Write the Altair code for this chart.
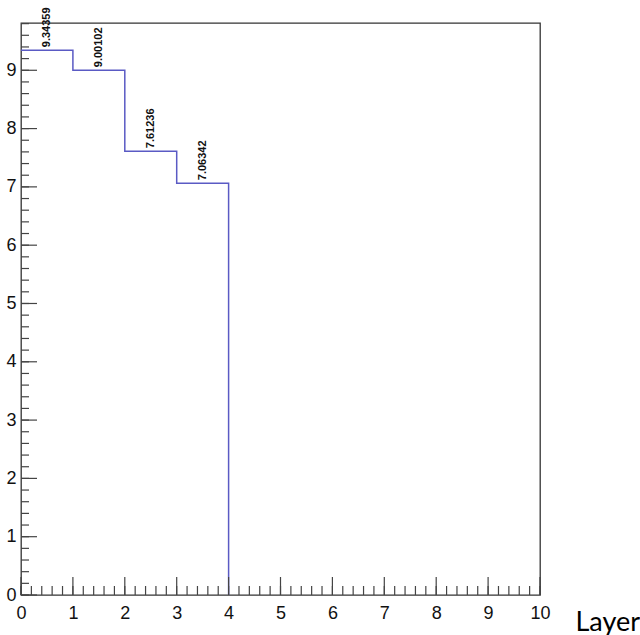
import altair as alt
import pandas as pd

# ---- data ----
bin_edges = [0, 1, 2, 3, 4, 5, 6, 7, 8, 9, 10]
bin_values = [9.34359, 9.00102, 7.61236, 7.06342, 0, 0, 0, 0, 0, 0]
bin_labels = ["9.34359", "9.00102", "7.61236", "7.06342"]
x_tick_labels = [0, 1, 2, 3, 4, 5, 6, 7, 8, 9, 10]
y_tick_labels = [0, 1, 2, 3, 4, 5, 6, 7, 8, 9]
y_max = 9.8108
x_title = "Layer"

W, H = 519, 572

# step outline points: filled bins, then drop to the next (empty) bin's level
n_filled = len(bin_labels)
step_x = bin_edges[:n_filled + 1]
step_y = bin_values[:n_filled + 1]
step_df = pd.DataFrame({"x": step_x, "y": step_y})

lab_df = pd.DataFrame({
    "xc": [(bin_edges[i] + bin_edges[i + 1]) / 2 for i in range(n_filled)],
    "y": bin_values[:n_filled],
    "t": bin_labels,
})

x_minor = [round(i * 0.2, 2) for i in range(0, 51)]
y_minor = [round(i * 0.2, 2) for i in range(0, 50) if i * 0.2 <= y_max]
xmaj_df = pd.DataFrame({"v": x_tick_labels})
xmin_df = pd.DataFrame({"v": x_minor})
ymaj_df = pd.DataFrame({"v": y_tick_labels})
ymin_df = pd.DataFrame({"v": y_minor})

xscale = alt.Scale(domain=[0, 10], nice=False, zero=False)
yscale = alt.Scale(domain=[0, y_max], nice=False, zero=False)

xaxis = alt.Axis(values=x_tick_labels, format="d", tickSize=0, ticks=True, tickOpacity=0,
                 domain=False, grid=False, labelFont="Liberation Sans", labelFontSize=18,
                 labelColor="#111111", labelPadding=9, labelFlush=False,
                 title=x_title, titleFont="Lato", titleFontSize=27, titleFontWeight="normal",
                 titleColor="black", titleX=554, titleY=35, titleAlign="left",
                 titleBaseline="alphabetic", titleAnchor="start")
yaxis = alt.Axis(values=y_tick_labels, format="d", tickSize=0, ticks=True, tickOpacity=0,
                 domain=False, grid=False, labelFont="Liberation Sans", labelFontSize=18,
                 labelColor="#111111", labelPadding=5, labelFlush=False, title=None)

line = alt.Chart(step_df).mark_line(interpolate="step-after", color="#5a5ac4",
                                     strokeWidth=1.5).encode(
    x=alt.X("x:Q", scale=xscale, axis=xaxis),
    y=alt.Y("y:Q", scale=yscale, axis=yaxis),
)

labels = alt.Chart(lab_df).mark_text(angle=270, align="left", baseline="middle",
                                     dx=3, font="Liberation Sans", fontSize=11,
                                     fontWeight="bold", color="#111111").encode(
    x=alt.X("xc:Q", scale=xscale),
    y=alt.Y("y:Q", scale=yscale),
    text="t:N",
)

tick_color = "#444444"
xmaj = alt.Chart(xmaj_df).mark_rule(color=tick_color, strokeWidth=1.2).encode(
    x=alt.X("v:Q", scale=xscale), y=alt.value(H), y2=alt.value(H - 18))
xmin = alt.Chart(xmin_df).mark_rule(color=tick_color, strokeWidth=1.2).encode(
    x=alt.X("v:Q", scale=xscale), y=alt.value(H), y2=alt.value(H - 9))
ymaj = alt.Chart(ymaj_df).mark_rule(color=tick_color, strokeWidth=1.2).encode(
    y=alt.Y("v:Q", scale=yscale), x=alt.value(0), x2=alt.value(16))
ymin = alt.Chart(ymin_df).mark_rule(color=tick_color, strokeWidth=1.2).encode(
    y=alt.Y("v:Q", scale=yscale), x=alt.value(0), x2=alt.value(8))

chart = alt.layer(line, xmaj, xmin, ymaj, ymin, labels).properties(
    width=W, height=H,
    autosize=alt.AutoSizeParams(type="none"),
    padding={"left": 21, "top": 23, "right": 100, "bottom": 40},
).configure(background="white").configure_view(stroke="#333333", strokeWidth=1.3)

chart.save("out.html", embed_options={"renderer": "svg", "actions": False})
